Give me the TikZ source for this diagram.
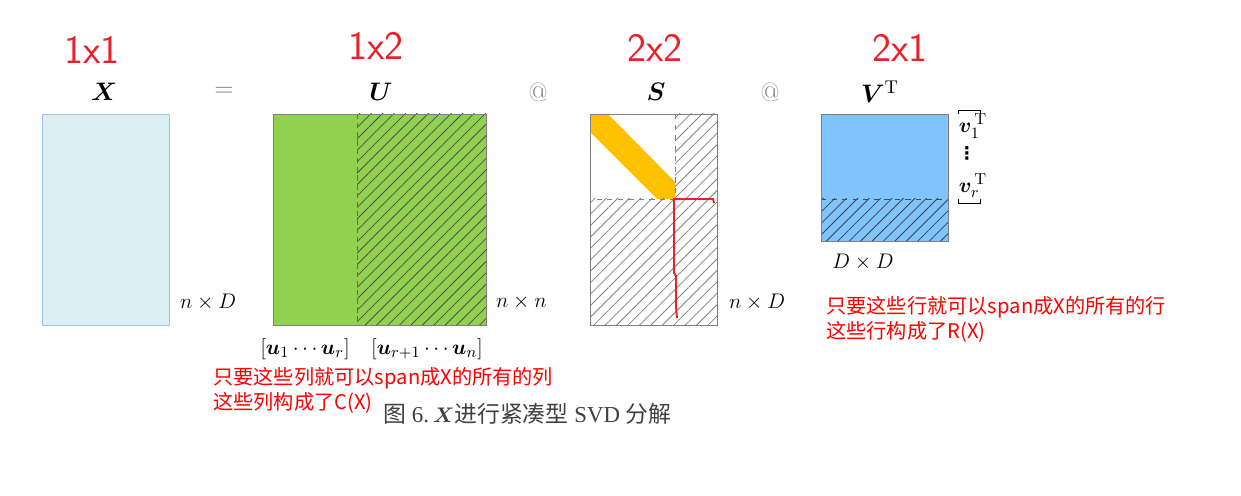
\documentclass[tikz,border=0pt]{standalone}
\usepackage{amsmath, amssymb}
\usepackage{bm}
\usepackage{xcolor}
\usepackage{fontspec}
\usetikzlibrary{patterns.meta}

\newfontfamily\cjk{Noto Sans CJK SC}
\newfontfamily\capserif{Liberation Serif}
\newfontfamily\symfont{DejaVu Sans}

\definecolor{xfill}{HTML}{DAEEF3}
\definecolor{xline}{HTML}{9DC3E6}
\definecolor{ugreen}{HTML}{92D050}
\definecolor{sorange}{HTML}{FFC000}
\definecolor{vblue}{HTML}{7FC4FF}
\definecolor{pen}{HTML}{E8222B}
\definecolor{capgray}{HTML}{404040}

\tikzset{
  hatch/.style={pattern={Lines[angle=45,distance=4.6pt,line width=0.45pt]}, pattern color=#1},
  mtitle/.style={font=\fontsize{15}{17}\selectfont},
  dimlabel/.style={font=\fontsize{13}{15}\selectfont},
  rednote/.style={font=\cjk\fontsize{11.5}{13}\selectfont, text=red, anchor=west, inner sep=0pt},
  handsize/.style={font=\sffamily\fontsize{23}{25}\selectfont, text=pen},
}

\begin{document}
\begin{tikzpicture}[x=0.02cm, y=-0.02cm]
    \useasboundingbox (0,0) rectangle (1241,496);

    % Handwritten sizes
    \node[handsize] (hx) at (92,50) {1x1};
    \node[handsize] (hu) at (376,46) {1x2};
    \node[handsize] (hs) at (655,48) {2x2};
    \node[handsize] (hv) at (900,48) {2x1};

    % Titles
    \node[mtitle] (tx) at (104,92) {$\boldsymbol{X}$};
    \node[mtitle, text=gray] (teq) at (224,92) {$=$};
    \node[mtitle] (tu) at (381,92) {$\boldsymbol{U}$};
    \node[mtitle, text=gray] (tat1) at (538,92) {@};
    \node[mtitle] (ts) at (656,92) {$\boldsymbol{S}$};
    \node[mtitle, text=gray] (tat2) at (770,92) {@};
    \node[mtitle] (tv) at (880,92) {$\boldsymbol{V}^{\mathrm{T}}$};

    % X
    \draw[xline, fill=xfill] (42,114) rectangle (169,325);
    \node[dimlabel, anchor=west] (dx) at (174,302) {$n \times D$};

    % U
    \fill[ugreen] (273,114) rectangle (486,325);
    \fill[hatch=black!70] (357,114) rectangle (486,325);
    \draw[densely dashed, black!60] (357,114) -- (357,325);
    \draw[gray] (273,114) rectangle (486,325);
    \node[dimlabel, anchor=west] (du) at (490,302) {$n \times n$};
    \node[dimlabel, font=\fontsize{12.5}{15}\selectfont] (ul) at (305,349) {$[\boldsymbol{u}_1 \cdots \boldsymbol{u}_r]$};
    \node[dimlabel, font=\fontsize{12.5}{15}\selectfont] (ur) at (427,349) {$[\boldsymbol{u}_{r+1} \cdots \boldsymbol{u}_n]$};

    % S
    \fill[sorange] (590,114) -- (608,114) -- (675,182) -- (675,199) -- (657,199) -- (590,132) -- cycle;
    \fill[hatch=gray] (675,114) rectangle (717,199);
    \fill[hatch=gray] (590,199) rectangle (717,325);
    \draw[dashed, gray] (675,114) -- (675,199) -- (590,199);
    \draw[gray] (590,114) rectangle (717,325);
    \node[dimlabel, anchor=west] (ds) at (723,302) {$n \times D$};

    % red pen mark on S
    \draw[pen, line width=1.1pt] (714,203) -- (713,199) -- (674,199) -- (674,273) -- (676,276) -- (676,307) -- (677,318);

    % V transpose
    \fill[vblue] (821,114) rectangle (948,241);
    \fill[hatch=black!75] (821,199) rectangle (948,241);
    \draw[dashed, black!70] (821,199) -- (948,199);
    \draw[gray] (821,114) rectangle (948,241);
    \node[dimlabel] (dv) at (863,262) {$D \times D$};

    % rows of V transpose
    \draw (958,114) -- (958,110) -- (980,110) -- (980,114);
    \draw (958,199) -- (958,203) -- (980,203) -- (980,199);
    \node[dimlabel, inner sep=0pt] (v1) at (973,126) {$\boldsymbol{v}_1^{\,\mathrm{T}}$};
    \node[inner sep=0pt, font=\symfont\bfseries\fontsize{10}{11}\selectfont] (vd) at (967,153) {⋮};
    \node[dimlabel, inner sep=0pt] (vr) at (973,186) {$\boldsymbol{v}_r^{\,\mathrm{T}}$};

    % Notes
    \node[rednote] (cn1) at (213,378) {只要这些列就可以span成X的所有的列};
    \node[rednote] (cn2) at (213,403) {这些列构成了C(X)};
    \node[rednote] (rn1) at (826,307) {只要这些行就可以span成X的所有的行};
    \node[rednote] (rn2) at (826,332) {这些行构成了R(X)};

    % Caption
    \node[anchor=west, text=capgray, inner sep=0pt, font=\capserif\fontsize{13}{15}\selectfont] (cap) at (383,414)
        {{\cjk 图} 6.\,$\boldsymbol{X}${\cjk 进行紧凑型} SVD {\cjk 分解}};
\end{tikzpicture}
\end{document}
